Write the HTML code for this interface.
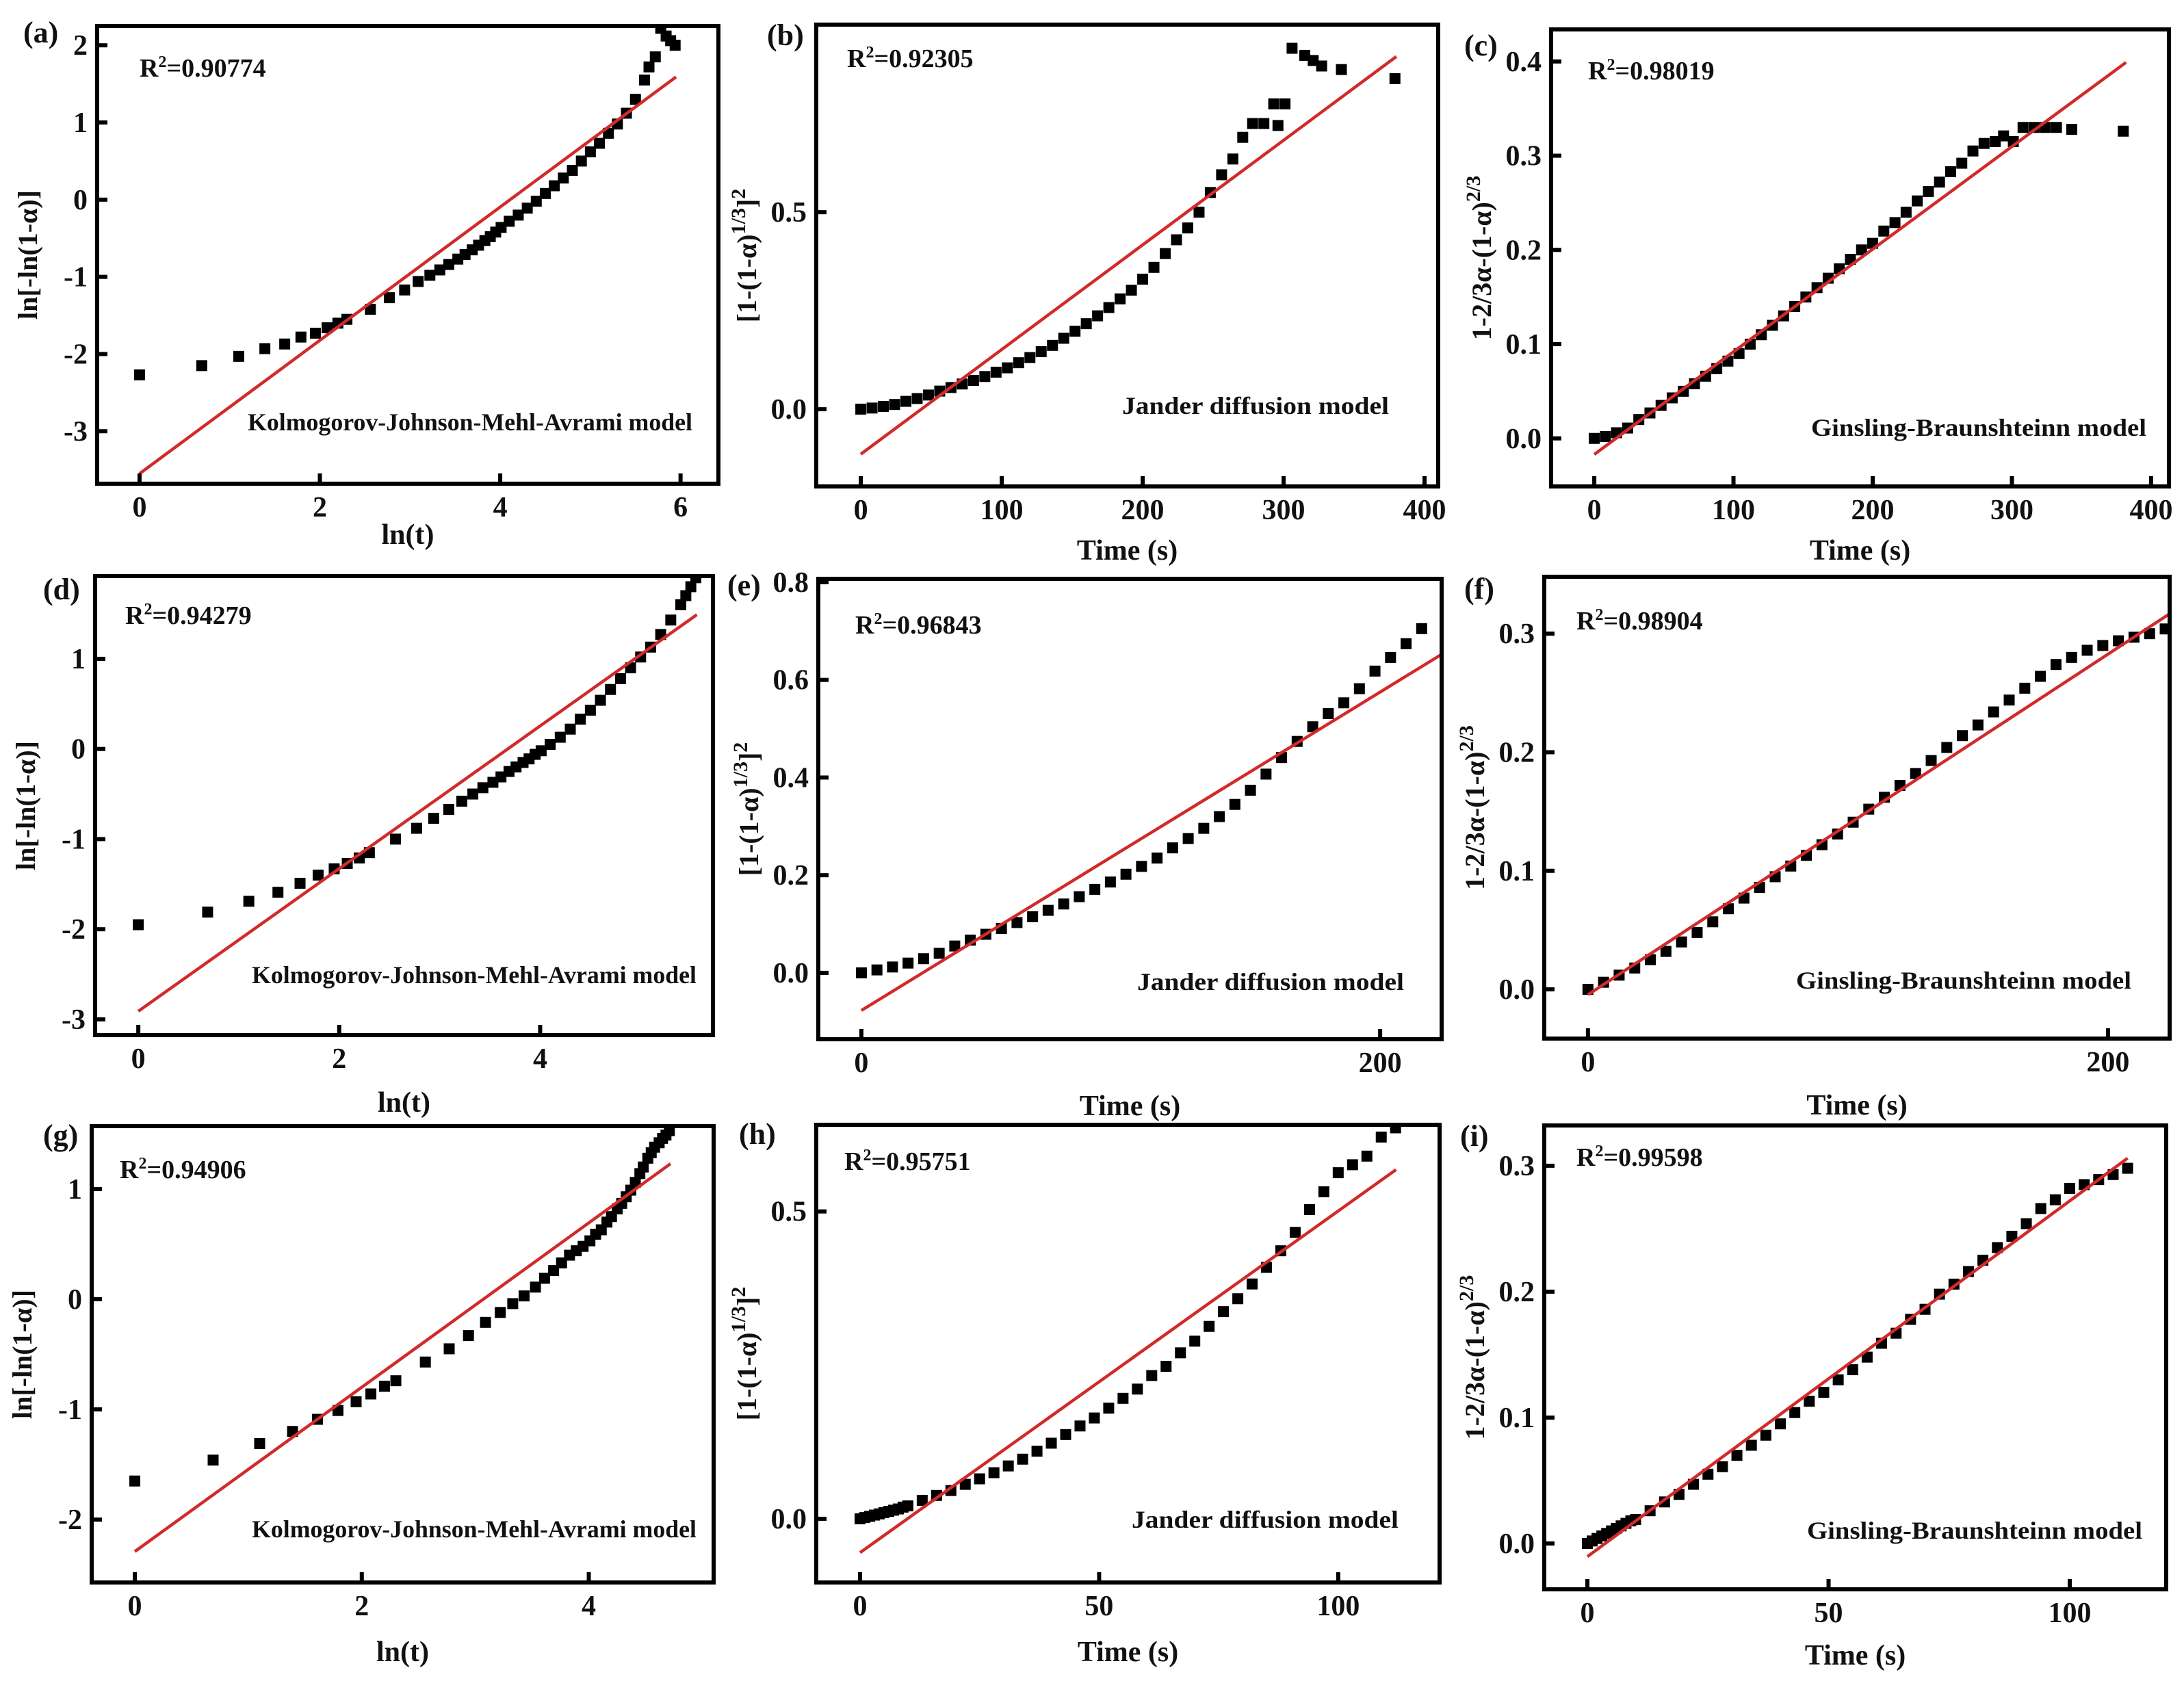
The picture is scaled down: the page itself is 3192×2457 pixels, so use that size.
<!DOCTYPE html>
<html><head><meta charset="utf-8"><style>
html,body{margin:0;padding:0;background:#fff}
svg{display:block}
text{font-family:"Liberation Serif","DejaVu Serif",serif;font-weight:bold;fill:#111}
</style></head><body>
<svg id="fig" xmlns="http://www.w3.org/2000/svg" width="3192" height="2457" viewBox="0 0 3192 2457"><rect width="3192" height="2457" fill="#fff"/></svg>
<script>
// ---- data ----
const aX=[0,0.69,1.10,1.39,1.61,1.79,1.95,2.08,2.20,2.30,2.56,2.77,2.94,3.09,3.22,3.33,3.43,3.53,3.61,3.69,3.76,3.83,3.89,3.95,4.01,4.1,4.2,4.3,4.4,4.5,4.6,4.7,4.8,4.9,5.0,5.1,5.2,5.3,5.4,5.5,5.6,5.65,5.72,5.78,5.84,5.89,5.94];
const aY=[-2.27,-2.15,-2.03,-1.93,-1.87,-1.78,-1.73,-1.66,-1.60,-1.55,-1.42,-1.27,-1.17,-1.06,-0.98,-0.91,-0.84,-0.77,-0.71,-0.65,-0.59,-0.53,-0.48,-0.42,-0.36,-0.28,-0.2,-0.11,-0.02,0.08,0.18,0.28,0.38,0.5,0.62,0.73,0.86,0.98,1.12,1.3,1.55,1.72,1.85,2.22,2.12,2.06,2.0];
const aFitX=[0,5.95], aFitY=[-3.55,1.59];
const bX=[0,8,16,24,32,40,48,56,64,72,80,88,96,104,112,120,128,136,144,152,160,168,176,184,192,200,208,216,224,232,240,248,256,264,271,278,286,293,296,301,306,315,321,327,341,379];
const bY=[0,0.003,0.007,0.012,0.02,0.027,0.036,0.046,0.055,0.064,0.073,0.083,0.094,0.105,0.118,0.131,0.146,0.162,0.18,0.198,0.217,0.237,0.258,0.28,0.302,0.33,0.36,0.395,0.43,0.46,0.5,0.55,0.595,0.635,0.69,0.725,0.725,0.775,0.72,0.775,0.916,0.898,0.885,0.871,0.862,0.839];
const bFitX=[0,380], bFitY=[-0.114,0.895];
const cX=[0,8,16,24,32,40,48,56,64,72,80,88,96,104,112,120,128,136,144,152,160,168,176,184,192,200,208,216,224,232,240,248,256,264,272,280,288,294,301,308,316,324,332,343,380];
const cY=[0,0.002,0.006,0.011,0.02,0.027,0.035,0.043,0.05,0.058,0.066,0.074,0.082,0.09,0.1,0.11,0.12,0.13,0.14,0.15,0.16,0.17,0.18,0.19,0.2,0.207,0.22,0.229,0.24,0.252,0.262,0.272,0.283,0.292,0.305,0.313,0.315,0.321,0.315,0.33,0.33,0.33,0.33,0.328,0.326];
const cFitX=[0,382], cFitY=[-0.017,0.399];
const dX=[0,0.69,1.10,1.39,1.61,1.79,1.95,2.08,2.20,2.30,2.56,2.77,2.94,3.09,3.22,3.33,3.43,3.53,3.61,3.69,3.76,3.83,3.89,3.95,4.01,4.1,4.2,4.3,4.4,4.5,4.6,4.7,4.8,4.9,5.0,5.1,5.2,5.3,5.4,5.45,5.5,5.55];
const dY=[-1.95,-1.81,-1.69,-1.59,-1.49,-1.4,-1.33,-1.27,-1.21,-1.15,-1.0,-0.88,-0.77,-0.67,-0.58,-0.5,-0.43,-0.37,-0.31,-0.25,-0.2,-0.15,-0.11,-0.06,-0.02,0.05,0.13,0.22,0.33,0.43,0.54,0.66,0.78,0.9,1.02,1.13,1.27,1.43,1.6,1.7,1.8,1.9];
const dFitX=[0,5.56], dFitY=[-2.91,1.49];
const eX=[0,6,12,18,24,30,36,42,48,54,60,66,72,78,84,90,96,102,108,114,120,126,132,138,144,150,156,162,168,174,180,186,192,198,204,210,216];
const eY=[0,0.006,0.012,0.02,0.029,0.04,0.055,0.067,0.079,0.091,0.103,0.115,0.128,0.141,0.156,0.171,0.186,0.202,0.218,0.235,0.256,0.275,0.296,0.32,0.345,0.374,0.407,0.441,0.474,0.504,0.531,0.553,0.582,0.618,0.646,0.674,0.705];
const eFitX=[0,223.6], eFitY=[-0.077,0.652];
const fX=[0,6,12,18,24,30,36,42,48,54,60,66,72,78,84,90,96,102,108,114,120,126,132,138,144,150,156,162,168,174,180,186,192,198,204,210,216,222];
const fY=[0,0.006,0.012,0.018,0.025,0.032,0.04,0.048,0.057,0.068,0.077,0.086,0.095,0.104,0.113,0.122,0.131,0.141,0.152,0.162,0.172,0.182,0.193,0.204,0.214,0.223,0.234,0.244,0.254,0.264,0.274,0.28,0.286,0.29,0.294,0.297,0.3,0.304];
const fFitX=[0,223.6], fFitY=[-0.0045,0.3166];
const gX=[0,0.69,1.10,1.39,1.61,1.79,1.95,2.08,2.20,2.30,2.56,2.77,2.94,3.09,3.22,3.33,3.43,3.53,3.61,3.69,3.76,3.83,3.89,3.95,4.01,4.06,4.11,4.16,4.2,4.25,4.29,4.33,4.37,4.41,4.45,4.48,4.52,4.55,4.58,4.62,4.65,4.68,4.71];
const gY=[-1.65,-1.46,-1.31,-1.2,-1.09,-1.01,-0.93,-0.86,-0.79,-0.74,-0.57,-0.45,-0.33,-0.21,-0.12,-0.04,0.03,0.11,0.19,0.26,0.33,0.40,0.44,0.48,0.53,0.59,0.63,0.70,0.75,0.82,0.87,0.93,0.99,1.06,1.14,1.20,1.28,1.33,1.38,1.42,1.46,1.49,1.53];
const gFitX=[0,4.72], gFitY=[-2.29,1.23];
const hX=[0,1,2,3,4,5,6,7,8,9,10,13,16,19,22,25,28,31,34,37,40,43,46,49,52,55,58,61,64,67,70,73,76,79,82,85,88,91,94,97,100,103,106,109,112];
const hY=[0,0.002,0.004,0.006,0.008,0.01,0.012,0.014,0.016,0.019,0.021,0.03,0.038,0.046,0.056,0.065,0.075,0.086,0.097,0.11,0.123,0.137,0.151,0.164,0.18,0.196,0.211,0.233,0.248,0.27,0.289,0.313,0.337,0.358,0.382,0.409,0.436,0.466,0.503,0.532,0.563,0.576,0.59,0.621,0.636];
const hFitX=[0,112.1], hFitY=[-0.055,0.568];
const iX=[0,1,2,3,4,5,6,7,8,9,10,13,16,19,22,25,28,31,34,37,40,43,46,49,52,55,58,61,64,67,70,73,76,79,82,85,88,91,94,97,100,103,106,109,112];
const iY=[0,0.002,0.004,0.006,0.008,0.01,0.012,0.014,0.016,0.018,0.019,0.026,0.033,0.039,0.047,0.055,0.061,0.07,0.078,0.086,0.095,0.104,0.113,0.12,0.13,0.138,0.148,0.159,0.167,0.178,0.186,0.198,0.206,0.216,0.225,0.235,0.244,0.254,0.266,0.273,0.282,0.285,0.289,0.293,0.298];
const iFitX=[0,112], iFitY=[-0.0104,0.306];
// tick values and labels
const tLnA=[0,2,4,6], tLnAL=["0","2","4","6"];
const tLnYA=[-3,-2,-1,0,1,2], tLnYAL=["-3","-2","-1","0","1","2"];
const t400=[0,100,200,300,400], t400L=["0","100","200","300","400"];
const tJb=[0,0.5], tJbL=["0.0","0.5"];
const tGc=[0,0.1,0.2,0.3,0.4], tGcL=["0.0","0.1","0.2","0.3","0.4"];
const tLnD=[0,2,4], tLnDL=["0","2","4"];
const tLnYD=[-3,-2,-1,0,1], tLnYDL=["-3","-2","-1","0","1"];
const t200=[0,200], t200L=["0","200"];
const tJe=[0,0.2,0.4,0.6,0.8], tJeL=["0.0","0.2","0.4","0.6","0.8"];
const tGf=[0,0.1,0.2,0.3], tGfL=["0.0","0.1","0.2","0.3"];
const tLnYG=[-2,-1,0,1], tLnYGL=["-2","-1","0","1"];
const t100=[0,50,100], t100L=["0","50","100"];
const r2=["0.90774","0.92305","0.98019","0.94279","0.96843","0.98904","0.94906","0.95751","0.99598"];

const KJ='Kolmogorov-Johnson-Mehl-Avrami model', JD='Jander diffusion model', GB='Ginsling-Braunshteinn model';
const YK='ln[-ln(1-α)]';
const YJ='[1-(1-α)<tspan dy="-16" font-size="30">1/3</tspan><tspan dy="16">]</tspan><tspan dy="-16" font-size="30">2</tspan>';
const YG='1-2/3α-(1-α)<tspan dy="-16" font-size="30">2/3</tspan>';

const P=[
 {id:'a',f:[142,38,1050,707],xd:[-0.47,6.42],yd:[-3.68,2.25],x:aX,y:aY,fx:aFitX,fy:aFitY,xt:tLnA,xl:tLnAL,yt:tLnYA,yl:tLnYAL,xt2:'ln(t)',yt2:YK,m:KJ,mr:1012,mb:629,mw:650,r:[204,112],td:88,pl:[-108,24]},
 {id:'b',f:[1193,36,2102,711],xd:[-31.6,409.7],yd:[-0.196,0.976],x:bX,y:bY,fx:bFitX,fy:bFitY,xt:t400,xl:t400L,yt:tJb,yl:tJbL,xt2:'Time (s)',yt2:YJ,m:JD,mr:2030,mb:605,mw:390,r:[1238,98],td:107,pl:[-72,30]},
 {id:'c',f:[2267,43,3170,711],xd:[-31,412.8],yd:[-0.051,0.434],x:cX,y:cY,fx:cFitX,fy:cFitY,xt:t400,xl:t400L,yt:tGc,yl:tGcL,xt2:'Time (s)',yt2:YG,m:GB,mr:3137,mb:637,mw:490,r:[2321,116],td:107,pl:[-127,38]},
 {id:'d',f:[139,842,1042,1513],xd:[-0.43,5.72],yd:[-3.175,1.918],x:dX,y:dY,fx:dFitX,fy:dFitY,xt:tLnD,xl:tLnDL,yt:tLnYD,yl:tLnYDL,xt2:'ln(t)',yt2:YK,m:KJ,mr:1018,mb:1437,mw:650,r:[183,912],td:112,pl:[-76,34]},
 {id:'e',f:[1196,846,2107,1519],xd:[-16.6,223.7],yd:[-0.136,0.807],x:eX,y:eY,fx:eFitX,fy:eFitY,xt:t200,xl:t200L,yt:tJe,yl:tJeL,xt2:'Time (s)',yt2:YJ,m:JD,mr:2052,mb:1447,mw:390,r:[1250,926],td:111,pl:[-133,24]},
 {id:'f',f:[2257,843,3171,1518],xd:[-16.8,223.7],yd:[-0.0415,0.348],x:fX,y:fY,fx:fFitX,fy:fFitY,xt:t200,xl:t200L,yt:tGf,yl:tGfL,xt2:'Time (s)',yt2:YG,m:GB,mr:3115,mb:1445,mw:490,r:[2304,920],td:111,pl:[-117,32]},
 {id:'g',f:[134,1646,1043,2313],xd:[-0.38,5.10],yd:[-2.571,1.571],x:gX,y:gY,fx:gFitX,fy:gFitY,xt:tLnD,xl:tLnDL,yt:tLnYG,yl:tLnYGL,xt2:'ln(t)',yt2:YK,m:KJ,mr:1018,mb:2247,mw:650,r:[175,1722],td:115,pl:[-71,28]},
 {id:'h',f:[1193,1644,2104,2313],xd:[-9.16,121.2],yd:[-0.1036,0.641],x:hX,y:hY,fx:hFitX,fy:hFitY,xt:t100,xl:t100L,yt:tJb,yl:tJbL,xt2:'Time (s)',yt2:YJ,m:JD,mr:2044,mb:2233,mw:390,r:[1234,1710],td:115,pl:[-113,28]},
 {id:'i',f:[2257,1645,3166,2323],xd:[-8.94,120],yd:[-0.0364,0.332],x:iX,y:iY,fx:iFitX,fy:iFitY,xt:t100,xl:t100L,yt:tGf,yl:tGfL,xt2:'Time (s)',yt2:YG,m:GB,mr:3131,mb:2249,mw:490,r:[2304,1704],td:110,pl:[-123,30]}
];
const NS='http://www.w3.org/2000/svg', svg=document.getElementById('fig');
function mk(tag,attrs,parent){const e=document.createElementNS(NS,tag);for(const k in attrs)e.setAttribute(k,attrs[k]);(parent||svg).appendChild(e);return e;}
P.forEach((p,pi)=>{
  const [L,T,R,B]=p.f;
  const sx=v=>L+(v-p.xd[0])/(p.xd[1]-p.xd[0])*(R-L);
  const sy=v=>B-(v-p.yd[0])/(p.yd[1]-p.yd[0])*(B-T);
  const g=mk('g',{});
  
  
  const cp=mk('clipPath',{id:'cp'+p.id},g); mk('rect',{x:L,y:T,width:R-L,height:B-T},cp);
  const pts=mk('g',{'clip-path':'url(#cp'+p.id+')'},g);
  
  
  p.x.forEach((xv,k)=>{const r=mk('rect',{x:sx(xv)-8,y:sy(p.y[k])-8,width:16,height:16,fill:'#000'},pts);
    
    });
  const ln=mk('line',{x1:sx(p.fx[0]),y1:sy(p.fy[0]),x2:sx(p.fx[1]),y2:sy(p.fy[1]),stroke:'#d22a2a','stroke-width':4.5},g);
  
  
  const fr=mk('rect',{x:L,y:T,width:R-L,height:B-T,fill:'none',stroke:'#000','stroke-width':6},g);
  
  
  p.xt.forEach((v,k)=>{const X=sx(v);
    mk('line',{x1:X,y1:B,x2:X,y2:B-15,stroke:'#000','stroke-width':6},g);
    const t=mk('text',{x:X,y:B+48,'text-anchor':'middle','font-size':42},g);t.textContent=p.xl[k];
    
    });
  p.yt.forEach((v,k)=>{const Y=sy(v);
    mk('line',{x1:L,y1:Y,x2:L+15,y2:Y,stroke:'#000','stroke-width':6},g);
    const t=mk('text',{x:L-14,y:Y+14,'text-anchor':'end','font-size':42},g);t.textContent=p.yl[k];
    
    });
  const xt=mk('text',{x:(L+R)/2,y:B+p.td,'text-anchor':'middle','font-size':42},g);xt.textContent=p.xt2;
  
  
  const yc=(T+B)/2, yx=L-88;
  const yt=mk('text',{x:yx,y:yc,'text-anchor':'middle','font-size':40,transform:'rotate(-90 '+yx+' '+yc+')'},g);yt.innerHTML=p.yt2;
  
  
  const pl=mk('text',{x:L+p.pl[0],y:T+p.pl[1],'font-size':44},g);pl.textContent='('+p.id+')';
  
  
  const rt=mk('text',{x:p.r[0],y:p.r[1],'font-size':38},g);rt.innerHTML='R<tspan dy="-14" font-size="24">2</tspan><tspan dy="14">='+r2[pi]+'</tspan>';
  
  
  const mt=mk('text',{x:p.mr-p.mw,y:p.mb,'font-size':36,textLength:p.mw,lengthAdjust:'spacingAndGlyphs'},g);mt.textContent=p.m;
  
  
});
</script>
</body></html>
